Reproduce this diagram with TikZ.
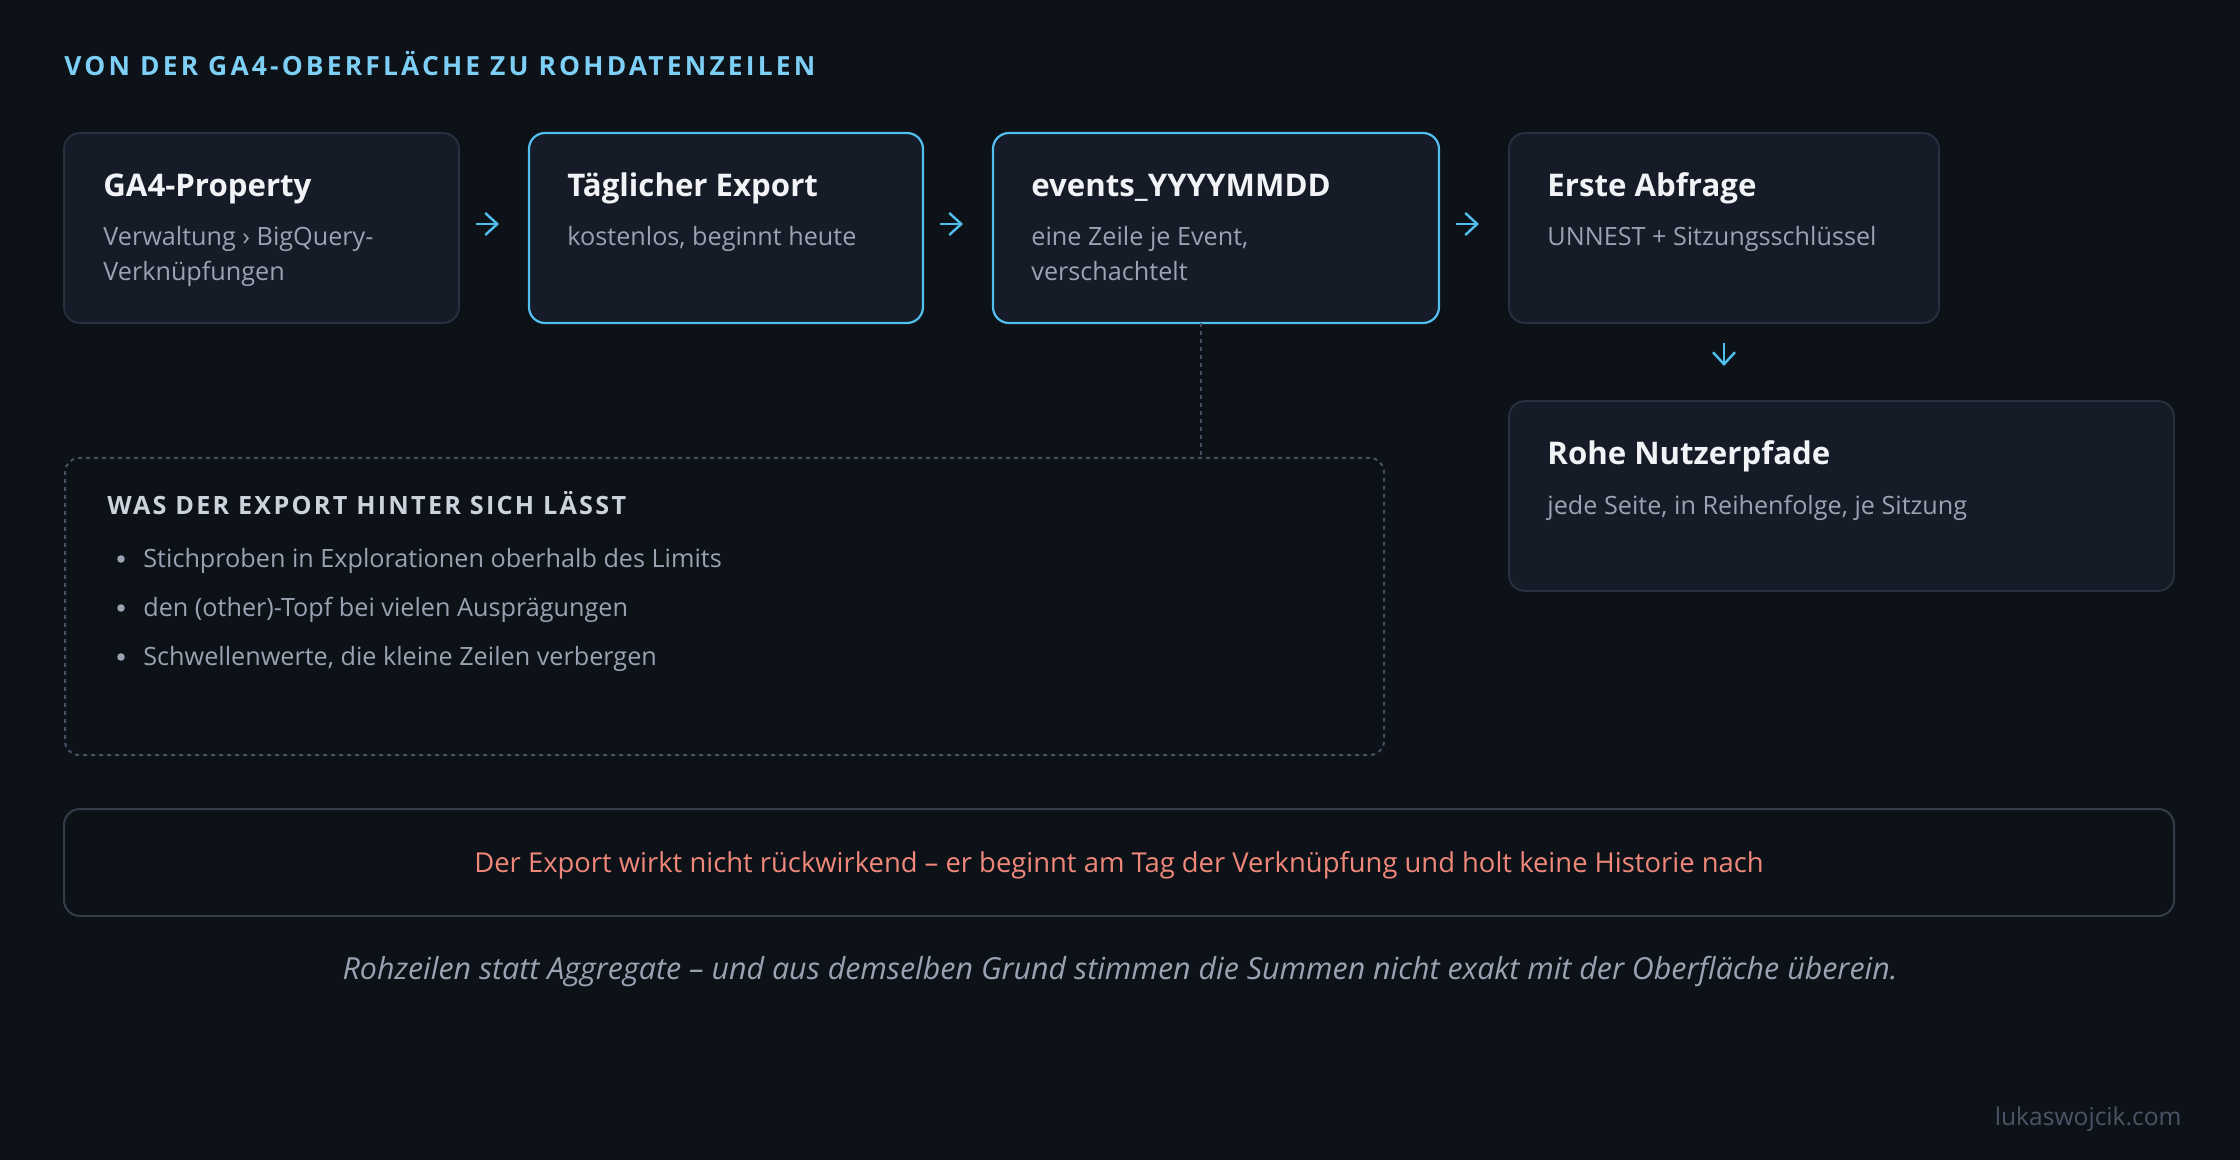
\documentclass[tikz,border=0pt]{standalone}
\usepackage{fontspec}
\setmainfont{Open Sans}
\usetikzlibrary{arrows.meta,positioning,calc}
\definecolor{bg}{HTML}{0D1118}
\definecolor{cardbg}{HTML}{151B27}
\definecolor{cardline}{HTML}{283041}
\definecolor{sky}{HTML}{4FC0EE}
\definecolor{headblue}{HTML}{7DCFF5}
\definecolor{bright}{HTML}{F1F3F6}
\definecolor{muted}{HTML}{9AA3B2}
\definecolor{pale}{HTML}{CDD3DC}
\definecolor{salmon}{HTML}{F0887A}
\definecolor{dashc}{HTML}{455063}
\definecolor{notec}{HTML}{353D4B}
\definecolor{faint}{HTML}{4B5566}

\begin{document}
\begin{tikzpicture}[
    x=0.5pt, y=-0.5pt,
    node distance=35pt,
    card/.style={draw=cardline, fill=cardbg, rounded corners=8pt, line width=0.9pt, minimum height=95pt, anchor=north west, inner sep=0pt, outer sep=0pt},
    hot/.style={card, draw=sky, line width=1.1pt},
    ttl/.style={anchor=base west, inner sep=0pt, text=bright, font=\bfseries\fontsize{15.6}{18}\selectfont},
    sub/.style={anchor=base west, inner sep=0pt, text=muted, align=left, font=\fontsize{12.6}{17.5}\selectfont},
    item/.style={anchor=base west, inner sep=0pt, text=muted, font=\fontsize{12.6}{14}\selectfont},
    flow/.style={-{Straight Barb[length=6pt,width=11pt]}, draw=sky, line width=1.2pt, shorten <=8.5pt, shorten >=15pt},
    dashline/.style={draw=dashc, line width=1pt, dash pattern=on 2pt off 2pt}
]
\fill[bg] (0,0) rectangle (2240,1160);

\node[anchor=base west, inner sep=0pt, text=headblue, font=\bfseries\fontsize{13.2}{15}\selectfont\addfontfeature{LetterSpace=12}] (head) at (64,76) {VON DER GA4-OBERFLÄCHE ZU ROHDATENZEILEN};

% pipeline
\node[card, minimum width=197.5pt] (prop) at (64,133) {};
\node[hot, minimum width=197pt, right=of prop] (daily) {};
\node[hot, minimum width=223pt, right=of daily] (events) {};
\node[card, minimum width=215pt, right=of events] (query) {};
\node[card, minimum width=332.5pt, below=39pt of query.south west, anchor=north west] (paths) {};

\node[ttl] (propT) at ($(prop.north west)+(39,64)$) {GA4-Property};
\node[sub] (propS) at ($(prop.north west)+(39,148)$) {Verwaltung › BigQuery-\\Verknüpfungen};
\node[ttl] (dailyT) at ($(daily.north west)+(38,64)$) {Täglicher Export};
\node[sub] (dailyS) at ($(daily.north west)+(38,113)$) {kostenlos, beginnt heute};
\node[ttl] (eventsT) at ($(events.north west)+(38,64)$) {events\_YYYYMMDD};
\node[sub] (eventsS) at ($(events.north west)+(38,148)$) {eine Zeile je Event,\\verschachtelt};
\node[ttl] (queryT) at ($(query.north west)+(38,64)$) {Erste Abfrage};
\node[sub] (queryS) at ($(query.north west)+(38,113)$) {UNNEST + Sitzungsschlüssel};
\node[ttl] (pathsT) at ($(paths.north west)+(38,64)$) {Rohe Nutzerpfade};
\node[sub] (pathsS) at ($(paths.north west)+(38,114)$) {jede Seite, in Reihenfolge, je Sitzung};

\draw[flow] ([yshift=2pt]prop.east) -- ([yshift=2pt]daily.west);
\draw[flow] ([yshift=2pt]daily.east) -- ([yshift=2pt]events.west);
\draw[flow] ([yshift=2pt]events.east) -- ([yshift=2pt]query.west);
\draw[flow, shorten <=10pt, shorten >=17.5pt] (query.south) -- (query.south |- paths.north);

% what gets lost
\node[dashline, rounded corners=7pt, minimum width=659.5pt, minimum height=148.5pt, anchor=north west, inner sep=0pt] (lost) at (64,457) {};
\draw[dashline] ([xshift=-7.5pt]events.south) -- ([xshift=-7.5pt]events.south |- lost.north);
\node[anchor=base west, inner sep=0pt, text=pale, font=\bfseries\fontsize{12.6}{14}\selectfont\addfontfeature{LetterSpace=9}] (lostT) at (107,515) {WAS DER EXPORT HINTER SICH LÄSST};
\foreach \t [count=\i] in {Stichproben in Explorationen oberhalb des Limits, den (other)-Topf bei vielen Ausprägungen, {Schwellenwerte, die kleine Zeilen verbergen}} {
  \node[item] (lost\i) at (143,519+49*\i) {\t};
  \fill[muted] ([shift={(-22,-9)}]lost\i.base west) circle[radius=1.9pt];
}

% note and caption
\node[draw=notec, line width=1pt, rounded corners=8pt, minimum width=1055pt, minimum height=53.5pt, text height=13.5pt, text depth=3.3pt, text=salmon, font=\fontsize{13.7}{16}\selectfont] (note) at (1119,862.5) {Der Export wirkt nicht rückwirkend – er beginnt am Tag der Verknüpfung und holt keine Historie nach};
\node[anchor=base, inner sep=0pt, text=muted, font=\itshape\fontsize{15.2}{17}\selectfont] (caption) at (1120,979) {Rohzeilen statt Aggregate – und aus demselben Grund stimmen die Summen nicht exakt mit der Oberfläche überein.};
\node[anchor=base east, inner sep=0pt, text=faint, font=\fontsize{12.3}{14}\selectfont] (site) at (2182,1125) {lukaswojcik.com};
\end{tikzpicture}
\end{document}
